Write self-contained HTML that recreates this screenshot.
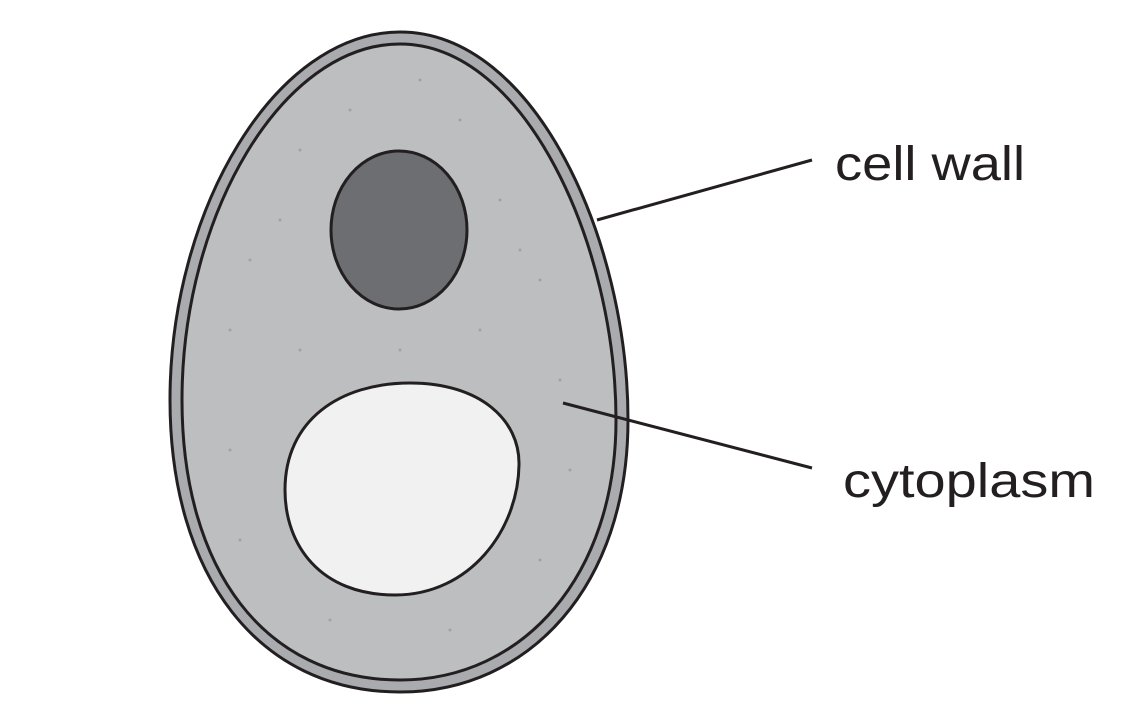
<!DOCTYPE html>
<html><head><meta charset="utf-8"><style>
html,body{margin:0;padding:0;background:#fff;}
svg{display:block}
</style></head><body>
<svg width="1138" height="709" viewBox="0 0 1138 709" xmlns="http://www.w3.org/2000/svg">
<path d="M400,32 C535,32 628,240 628,420 C628,585 530,692 400,692 C258,692 170,575 170,400 C170,210 275,32 400,32 Z" fill="#a9abae" stroke="#231f20" stroke-width="3"/>
<path d="M400,44 C525,44 616,245 616,420 C616,575 524,680 400,680 C265,680 182,570 182,400 C182,215 282,44 400,44 Z" fill="#bcbec0" stroke="#231f20" stroke-width="3"/>
<g fill="#a0a2a5">
<circle cx="300" cy="150" r="1.5"/><circle cx="350" cy="110" r="1.5"/><circle cx="460" cy="120" r="1.5"/><circle cx="500" cy="200" r="1.5"/><circle cx="250" cy="260" r="1.5"/><circle cx="230" cy="330" r="1.5"/><circle cx="300" cy="350" r="1.5"/><circle cx="480" cy="330" r="1.5"/><circle cx="540" cy="280" r="1.5"/><circle cx="560" cy="380" r="1.5"/><circle cx="230" cy="450" r="1.5"/><circle cx="240" cy="540" r="1.5"/><circle cx="330" cy="620" r="1.5"/><circle cx="450" cy="630" r="1.5"/><circle cx="540" cy="560" r="1.5"/><circle cx="570" cy="470" r="1.5"/><circle cx="400" cy="350" r="1.5"/><circle cx="280" cy="220" r="1.5"/><circle cx="520" cy="250" r="1.5"/><circle cx="420" cy="80" r="1.5"/>
</g>
<ellipse cx="399" cy="230" rx="68" ry="79" fill="#6d6e71" stroke="#231f20" stroke-width="3"/>
<path d="M410,383 C480,383 520,420 519,465 C518,530 470,595 395,595 C320,595 285,545 285,490 C285,420 340,383 410,383 Z" fill="#f1f1f2" stroke="#231f20" stroke-width="3"/>
<line x1="597" y1="220" x2="812" y2="160" stroke="#231f20" stroke-width="3"/>
<line x1="563" y1="403" x2="812" y2="468" stroke="#231f20" stroke-width="3"/>
<text x="835" y="180" font-family="Liberation Sans, sans-serif" font-size="48" fill="#231f20" textLength="190" lengthAdjust="spacingAndGlyphs">cell wall</text>
<text x="843" y="497" font-family="Liberation Sans, sans-serif" font-size="48" fill="#231f20" textLength="252" lengthAdjust="spacingAndGlyphs">cytoplasm</text>
</svg>
</body></html>
